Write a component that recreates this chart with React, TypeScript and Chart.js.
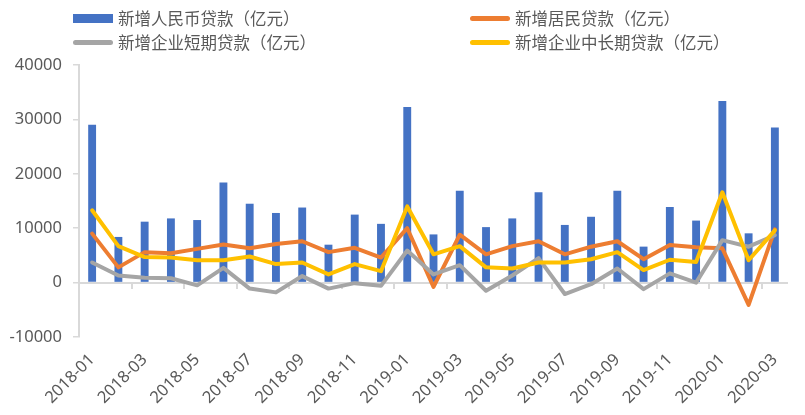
import React, { useEffect, useRef } from 'react';
import { Chart, registerables } from 'chart.js';

Chart.register(...registerables);

const months = [
  '2018-01', '2018-02', '2018-03', '2018-04', '2018-05', '2018-06', '2018-07', '2018-08', '2018-09',
  '2018-10', '2018-11', '2018-12', '2019-01', '2019-02', '2019-03', '2019-04', '2019-05', '2019-06',
  '2019-07', '2019-08', '2019-09', '2019-10', '2019-11', '2019-12', '2020-01', '2020-02', '2020-03',
];

const rmbLoans = [29000, 8393, 11200, 11800, 11500, 18400, 14500, 12800, 13800, 6970, 12500, 10800, 32300, 8858, 16900, 10200, 11800, 16600, 10600, 12100, 16900, 6613, 13900, 11400, 33400, 9057, 28500];
const householdLoans = [9000, 2800, 5600, 5400, 6200, 7000, 6300, 7100, 7600, 5600, 6400, 4600, 10000, -800, 8800, 5200, 6700, 7600, 5200, 6600, 7600, 4300, 6900, 6500, 6300, -4100, 9800];
const shortCorpLoans = [3700, 1300, 900, 800, -500, 2700, -1100, -1800, 1200, -1100, -100, -600, 5900, 1500, 3200, -1500, 1300, 4500, -2100, -300, 2600, -1200, 1700, 0, 7800, 6600, 8700];
const longCorpLoans = [13300, 6700, 4700, 4600, 4100, 4100, 4800, 3400, 3700, 1500, 3400, 2100, 14000, 5200, 6700, 2800, 2600, 3700, 3700, 4300, 5600, 2300, 4200, 3800, 16600, 4100, 9600];

const yMin = -10000;
const yMax = 40000;
const yStep = 10000;

const seriesNames = ['新增人民币贷款（亿元）', '新增居民贷款（亿元）', '新增企业短期贷款（亿元）', '新增企业中长期贷款（亿元）'];
const seriesColors = ['#4472C4', '#ED7D31', '#A5A5A5', '#FFC000'];

const FONT = "'Noto Sans', 'Noto Sans CJK SC', sans-serif";
const AXIS_COLOR = '#D9D9D9';
const TEXT_COLOR = '#595959';

const zeroAxisPlugin = {
  id: 'zeroAxis',
  beforeDatasetsDraw(chart: any) {
    const { ctx, chartArea, scales } = chart;
    const x = scales.x;
    const y = scales.y;
    const py = Math.round(y.getPixelForValue(0));
    ctx.save();
    ctx.strokeStyle = AXIS_COLOR;
    ctx.lineWidth = 2;
    ctx.beginPath();
    ctx.moveTo(chartArea.left, py);
    ctx.lineTo(chartArea.right, py);
    const n = months.length;
    for (let k = 2; k < n; k += 2) {
      const bx = Math.round((x.getPixelForValue(k - 1) + x.getPixelForValue(k)) / 2);
      ctx.moveTo(bx, py);
      ctx.lineTo(bx, py + 6);
    }
    ctx.stroke();
    ctx.restore();
  },
};

function LegendItem({ idx, left, top }: { idx: number; left: number; top: number }) {
  const isBar = idx === 0;
  return (
    <div style={{ position: 'absolute', left, top, height: 24, display: 'flex', alignItems: 'center' }}>
      <div
        style={{
          width: 40,
          height: isBar ? 9 : 5,
          background: seriesColors[idx],
          borderRadius: isBar ? 0 : 3,
          marginRight: 5,
        }}
      />
      <span style={{ fontFamily: "'Noto Sans CJK SC', sans-serif", fontSize: 16.5, color: TEXT_COLOR, whiteSpace: 'nowrap', lineHeight: '24px' }}>
        {seriesNames[idx]}
      </span>
    </div>
  );
}

export default function App() {
  const canvasRef = useRef<HTMLCanvasElement>(null);

  useEffect(() => {
    if (!canvasRef.current) return;
    const lineStyle = {
      borderWidth: 4,
      pointRadius: 0,
      tension: 0,
      borderJoinStyle: 'round',
      borderCapStyle: 'round',
    };
    const chart = new Chart(canvasRef.current, {
      type: 'bar',
      data: {
        labels: months,
        datasets: [
          {
            type: 'bar',
            label: seriesNames[0],
            data: rmbLoans,
            backgroundColor: seriesColors[0],
            barPercentage: 0.3,
            categoryPercentage: 1,
            order: 4,
          } as any,
          {
            type: 'line',
            label: seriesNames[1],
            data: householdLoans,
            borderColor: seriesColors[1],
            backgroundColor: seriesColors[1],
            ...lineStyle,
            order: 3,
          },
          {
            type: 'line',
            label: seriesNames[2],
            data: shortCorpLoans,
            borderColor: seriesColors[2],
            backgroundColor: seriesColors[2],
            ...lineStyle,
            order: 2,
          },
          {
            type: 'line',
            label: seriesNames[3],
            data: longCorpLoans,
            borderColor: seriesColors[3],
            backgroundColor: seriesColors[3],
            ...lineStyle,
            order: 1,
          },
        ],
      },
      options: {
        responsive: false,
        animation: false,
        layout: { padding: { top: 65, right: 17, left: 0, bottom: 0 } },
        plugins: {
          legend: { display: false },
          tooltip: { enabled: false },
        },
        scales: {
          x: {
            type: 'category',
            offset: true,
            grid: { display: false, drawTicks: false },
            border: { display: false },
            ticks: {
              autoSkip: false,
              minRotation: 45,
              maxRotation: 45,
              padding: 13,
              color: TEXT_COLOR,
              font: { family: FONT, size: 16.5 },
              callback: (_v: any, i: number) => (i % 2 === 0 ? months[i] : ''),
            },
            afterFit: (scale: any) => {
              scale.height = 78;
            },
          },
          y: {
            min: yMin,
            max: yMax,
            ticks: {
              stepSize: yStep,
              padding: 11,
              color: TEXT_COLOR,
              font: { family: FONT, size: 16.5 },
              callback: (v: any) => String(v),
            },
            grid: {
              display: true,
              drawOnChartArea: false,
              drawTicks: true,
              tickLength: 6,
              color: AXIS_COLOR,
              lineWidth: 1.5,
            },
            border: { display: true, color: AXIS_COLOR, width: 2 },
            afterFit: (scale: any) => {
              scale.width = 79;
            },
          },
        },
      },
      plugins: [zeroAxisPlugin],
    } as any);
    return () => chart.destroy();
  }, []);

  return (
    <div style={{ position: 'absolute', left: 0, top: 0, width: 805, height: 415, background: '#fff' }}>
      <canvas ref={canvasRef} width={805} height={415} style={{ position: 'absolute', left: 0, top: 0 }} />
      <LegendItem idx={0} left={73} top={6} />
      <LegendItem idx={1} left={470} top={6} />
      <LegendItem idx={2} left={73} top={30} />
      <LegendItem idx={3} left={470} top={30} />
    </div>
  );
}
